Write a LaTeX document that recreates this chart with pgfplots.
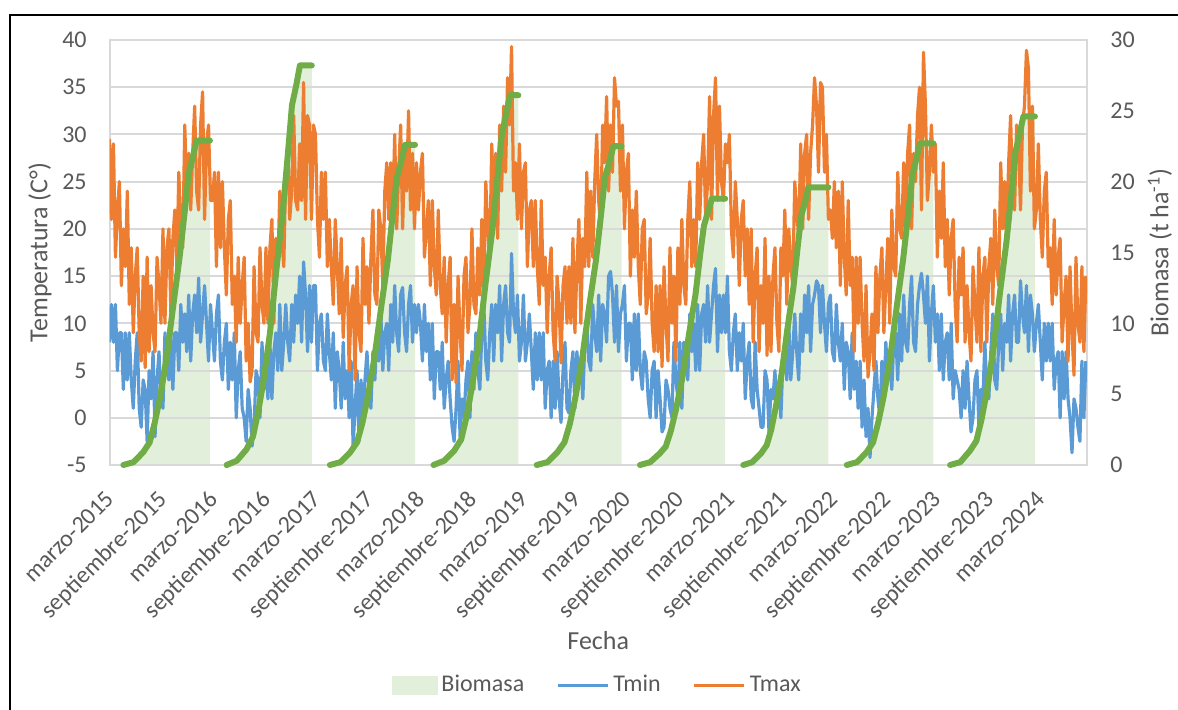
\documentclass[border=0pt]{standalone}
\usepackage{fontspec}
\setmainfont{Carlito}
\usepackage{pgfplots}
\usepackage{pgfplotstable}
\pgfplotsset{compat=1.18}

\definecolor{tmax}{HTML}{ED7D31}
\definecolor{tmin}{HTML}{5B9BD5}
\definecolor{bioline}{HTML}{70AD47}
\definecolor{bioarea}{HTML}{E2EFDA}
\definecolor{gridc}{HTML}{D9D9D9}
\definecolor{txt}{HTML}{595959}

% days since 1 March 2015, weekly samples
\pgfplotstableread{
d tmin tmax
0 8 29.5
7 12 21
14 8 29
21 12 17
28 5 22
35 9 25
42 9 14
49 3 20
56 9 16
63 4 24
70 9 12
77 4 18
84 1 9
91 6 15
98 9 18
105 1 9
112 -1 6
119 4 15
126 3 5.3
133 -2.5 17
140 5 7
147 2 14
154 7 9
161 -2 7
168 4 17
175 7 14
182 2 10
189 1 20
196 9 10
203 5 18
210 4 20
217 9 11
224 3 19
231 9 22
238 9 16
245 5 26
252 12 20
259 8 18
266 11 31
273 7 24
280 13 28
287 6 22
294 11 28
301 13 33
308 9 24
315 14.8 22
322 8 31
329 11 34.5
336 14 21
343 10 29
350 6 31
357 12 23
364 9 23
371 6 26
378 11 16
385 13 26
392 6 18
399 4 25
406 8 18
413 10 13
420 3 21
427 8 23
434 4 12
441 9 15
448 0 8
455 5 17
462 7 10
469 1 14
476 0 17
483 -2.5 6
490 3 10
497 1 3.8
504 -3 5
511 -1 16
518 5 9
525 4 8
532 0 18
539 8 12
546 3 10
553 6 18
560 2 10
567 8 18
574 2 21
581 7 10
588 9 19
595 5 16
602 12 24
609 5 19
616 8 16
623 12 26
630 8 29
637 6 21
644 12 24
651 8 32
658 13 23
665 10 22
672 15 29
679 8 23
686 16.5 35.5
693 13 21
700 7 32
707 14 31
714 8 21
721 14 31
728 14 30
735 5 21
742 10 17
749 11 26
756 6 21
763 5 26
770 11 16
777 7 21
784 4 16
791 9 12
798 1 21
805 7 16
812 5 11
819 1 19
826 8 8.5
833 2 14
840 5 16
847 0 5
854 6 12
861 -3 14
868 1 4
875 5 16
882 -2.5 9
889 4 7
896 0 19
903 4 12
910 7 16
917 3 10
924 1 17
931 7 22
938 4 13
945 9 12
952 6 22
959 11 20
966 5 14
973 9 24
980 10 27
987 5 21
994 12 27
1001 8 21
1008 14 30
1015 9 20
1022 7 26
1029 13 31
1036 13.8 20
1043 9 28
1050 7 24
1057 12 32.5
1064 14 22
1071 8 28
1078 12 20
1085 9 27
1092 12 22
1099 10 26
1106 6 28
1113 12 17
1120 7 20
1127 10 23
1134 4 14
1141 10 23
1148 2 16
1155 7 13
1162 7 22
1169 3 14
1176 8 11
1183 1 17
1190 4 8
1197 6 14
1204 2 17
1211 -1 4
1218 -2.5 12
1225 1 3.7
1232 6 15
1239 -2 9
1246 2 5
1253 0 15
1260 4 17
1267 6 9
1274 0 12
1281 7 20
1288 3 12
1295 9 11
1302 5 18
1309 3 13
1316 9 21
1323 12 13
1330 6 25
1337 4 20
1344 9 17
1351 12 29
1358 6 23
1365 12 28
1372 9 19
1379 14 31
1386 6 24
1393 12 33
1400 14 26
1407 9 36
1414 8 31
1421 17.4 39.3
1428 11 24
1435 9 27
1442 13 21
1449 6 29
1456 8 20
1463 13 26
1470 6 27
1477 8 16
1484 11 22
1491 7 23
1498 3 16
1505 9 23
1512 4 16
1519 9 12
1526 4 23
1533 9 14
1540 1 17
1547 5 9
1554 6 15
1561 0 18
1568 6 9
1575 1 6
1582 7 15
1589 2 12
1596 -0.5 5.8
1603 5 14
1610 8 16
1617 1 10
1624 0.5 16
1631 5 10
1638 7 19
1645 1 9
1652 7 16
1659 4 21
1666 6 10
1673 2 19
1680 8 16
1687 10 26
1694 6 16
1701 5 24
1708 12 17
1715 9 25
1722 7 30
1729 13 23
1736 6 20
1743 12 31
1750 11 27
1757 8 34
1764 15 24
1771 15.5 31
1778 13 26
1785 8 36
1792 14 33
1799 7 33.5
1806 11 24
1813 12 31
1820 14 20
1827 6 26
1834 10 28
1841 10 15
1848 4 22
1855 11 17
1862 5 24
1869 11 16
1876 5 12
1883 3 20
1890 7 21
1897 6 11
1904 2 13
1911 0 19
1918 5 10
1925 6 7
1932 0 14
1939 5 7
1946 2 14
1953 -1.5 5.4
1960 -1 16
1967 4 10
1974 3 6
1981 1 18
1988 0 10
1995 8 15
2002 4 6
2009 2 18
2016 8 12
2023 1 21
2030 8 14
2037 7 12
2044 4 21
2051 11 25
2058 7 16
2065 10 21
2072 5 16
2079 12 27
2086 5 21
2093 11 27
2100 12 30
2107 8 21
2114 14 25
2121 8 34
2128 11 21
2135 14 32
2142 15.8 36
2149 7 23
2156 13 33
2163 9 25
2170 13 23
2177 9 29
2184 15 27
2191 7 30
2198 5 20
2205 9 17
2212 11 25
2219 5 21
2226 9 14
2233 6 21
2240 10 23
2247 2 15
2254 6 20
2261 8 12
2268 2 20
2275 1 8
2282 8 15
2289 3 18
2296 1 7
2303 -1 14
2310 -1 10
2317 5 19
2324 4 6.6
2331 -1.5 15
2338 3 7
2345 2 15
2352 5 18
2359 1 10
2366 3 7
2373 0 18
2380 6 15
2387 7 22
2394 4 12
2401 10 20
2408 4 16
2415 7 14
2422 11 25
2429 7 22
2436 4 19
2443 11 29
2450 7 20
2457 13 28
2464 9 30
2471 14 21
2478 7 28
2485 12 31
2492 13 36
2499 14.5 33
2506 14 26
2513 9 35.5
2520 14 35
2527 10 26
2534 7 30
2541 12 21
2548 13 22
2555 7 19
2562 6 25
2569 12 18
2576 8 24
2583 6 14
2590 10 25
2597 3 17
2604 8 13
2611 7 23
2618 2 14
2625 9 17
2632 3 7
2639 6 17
2646 1 10
2653 6 17
2660 -1 10
2667 4 6
2674 -2 14
2681 1 4.3
2688 -4.2 7
2695 0 11
2702 3 5
2709 6 16
2716 2 9
2723 0 15
2730 6 18
2737 2 9
2744 8 14
2751 4 19
2758 6 10
2765 3 22
2772 8 16
2779 9 15
2786 4 26
2793 11 20
2800 6 19
2807 13 27
2814 8 20
2821 7 28
2828 12 31
2835 15 20
2842 8 28
2849 7 25
2856 12 32
2863 14 35
2870 15.3 22
2877 13 38.7
2884 10 33
2891 15 23
2898 6 26
2905 11 31
2912 14 26
2919 8 29
2926 11 17
2933 5 24
2940 11 19
2947 4 27
2954 8 16
2961 9 21
2968 4 13
2975 10 19
2982 2 21
2989 5 12
2996 4 8
3003 3 17
3010 0 13
3017 5 18
3024 1 8
3031 6 14
3038 2 9
3045 -1.5 6
3052 0 16
3059 4 12
3066 5 8
3073 -1 18
3080 3 7
3087 2 15
3094 8 17
3101 3 8
3108 2 16
3115 7 19
3122 11 12
3129 4 22
3136 3 16
3143 8 14
3150 11 27
3157 5 20
3164 10 25
3171 8 19
3178 13 27
3185 6 32
3192 11 23
3199 13 22
3206 8 31
3213 8 29
3220 14.5 22
3227 11 31
3234 9 33
3241 14 38.9
3248 7 37
3255 13 24
3262 11 33
3269 7 20
3276 10 22
3283 12 29
3290 8 21
3297 4 17
3304 10 24
3311 6 26
3318 10 16
3325 6 18
3332 10 12
3339 3 21
3346 6 13
3353 7 17
3360 0 19
3367 7 8
3374 2 12
3381 7 15
3388 2 6
3395 0 16
3402 -3.7 9
3409 2 4.5
3416 1 17
3423 -1 10
3430 -2.5 8
3437 6 16
3444 0 7
3451 6 15
}\temps

% biomass: b for the area, l for the line (nan breaks it)
\pgfplotstableread{
d b l
49 0 0
85 0.2 0.2
119 0.9 0.9
142 1.6 1.6
160 3.0 3.0
179 4.8 4.8
202 7.6 7.6
225 11.2 11.2
248 14.7 14.7
267 18.1 18.1
280 20.6 20.6
295 21.8 21.8
308 22.9 22.9
355 22.9 22.9
355 0 nan
414 0 0
450 0.3 0.3
484 1.1 1.1
507 2.0 2.0
525 3.7 3.7
544 5.9 5.9
567 9.3 9.3
590 13.8 13.8
613 18.0 18.0
632 22.3 22.3
645 25.4 25.4
660 26.8 26.8
673 28.2 28.2
715 28.2 28.2
715 0 nan
779 0 0
816 0.2 0.2
851 0.9 0.9
875 1.6 1.6
893 2.9 2.9
912 4.7 4.7
936 7.5 7.5
960 11.1 11.1
984 14.5 14.5
1002 17.9 17.9
1016 20.3 20.3
1032 21.5 21.5
1045 22.6 22.6
1080 22.6 22.6
1080 0 nan
1145 0 0
1183 0.3 0.3
1218 1.0 1.0
1243 1.8 1.8
1262 3.4 3.4
1281 5.5 5.5
1305 8.6 8.6
1329 12.8 12.8
1354 16.7 16.7
1373 20.6 20.6
1386 23.2 23.2
1402 24.8 24.8
1416 26.1 26.1
1445 26.1 26.1
1445 0 nan
1510 0 0
1548 0.2 0.2
1583 0.9 0.9
1608 1.6 1.6
1627 2.9 2.9
1646 4.7 4.7
1670 7.4 7.4
1694 11.0 11.0
1719 14.4 14.4
1738 17.8 17.8
1751 20.3 20.3
1767 21.4 21.4
1781 22.5 22.5
1810 22.5 22.5
1810 0 nan
1875 0 0
1911 0.2 0.2
1944 0.8 0.8
1966 1.3 1.3
1984 2.4 2.4
2002 3.9 3.9
2025 6.2 6.2
2048 9.2 9.2
2071 12.0 12.0
2088 14.9 14.9
2101 16.9 16.9
2116 17.9 17.9
2129 18.8 18.8
2176 18.8 18.8
2176 0 nan
2240 0 0
2272 0.2 0.2
2302 0.8 0.8
2323 1.4 1.4
2339 2.5 2.5
2355 4.1 4.1
2376 6.5 6.5
2396 9.6 9.6
2417 12.5 12.5
2433 15.5 15.5
2445 17.6 17.6
2459 18.6 18.6
2470 19.6 19.6
2541 19.6 19.6
2541 0 nan
2606 0 0
2642 0.2 0.2
2676 0.9 0.9
2699 1.6 1.6
2717 3.0 3.0
2736 4.8 4.8
2759 7.5 7.5
2782 11.1 11.1
2805 14.5 14.5
2824 17.9 17.9
2837 20.4 20.4
2852 21.6 21.6
2865 22.7 22.7
2912 22.7 22.7
2912 0 nan
2971 0 0
3007 0.2 0.2
3041 1.0 1.0
3064 1.7 1.7
3082 3.2 3.2
3101 5.2 5.2
3124 8.1 8.1
3147 12.1 12.1
3170 15.7 15.7
3189 19.4 19.4
3202 22.1 22.1
3217 23.4 23.4
3230 24.6 24.6
3271 24.6 24.6
3271 0 nan
}\biomasa

\pgfplotsset{
  base/.style={
    at={(54.75pt,122.5pt)}, anchor=south west,
    scale only axis, width=488.75pt, height=212.5pt,
    xmin=0, xmax=3455,
    tick label style={font=\fontsize{12}{14}\selectfont, text=txt},
    label style={font=\fontsize{13}{15}\selectfont, text=txt},
    major tick length=0pt, tick style={draw=none},
  },
}

\begin{document}
\begin{tikzpicture}
\path[use as bounding box] (0,0) rectangle (589pt,355pt);
\draw[line width=1pt] (5pt,-2pt) -- (5pt,347.5pt) -- (600pt,347.5pt);

% biomass area, right axis
\begin{axis}[base,
    ymin=0, ymax=30,
    axis x line=none, axis y line*=right,
    axis line style={draw=none},
    ytick={0,5,...,30}, yticklabels={0,5,10,15,20,25,30},
    yticklabel style={anchor=west, inner sep=0pt, xshift=11.5pt},
    ylabel={Biomasa (t ha\textsuperscript{-1})},
    ylabel style={at={(axis description cs:1.0747,0.5)}, anchor=center},
]
\addplot[fill=bioarea, draw=none] table[x=d, y=b]{\biomasa} \closedcycle;
\end{axis}

% temperatures, left axis
\begin{axis}[base,
    ymin=-5, ymax=40,
    ytick={-5,0,...,40}, yticklabels={-5,0,5,10,15,20,25,30,35,40},
    yticklabel style={anchor=east, inner sep=0pt, xshift=-11.25pt},
    ymajorgrids, grid style={gridc, line width=1pt},
    axis line style={gridc, line width=1pt},
    xtick={0,184,366,550,731,915,1096,1280,1461,1645,1827,2011,2192,2376,2557,2741,2922,3106,3288},
    xticklabels={marzo-2015,septiembre-2015,marzo-2016,septiembre-2016,marzo-2017,septiembre-2017,marzo-2018,septiembre-2018,marzo-2019,septiembre-2019,marzo-2020,septiembre-2020,marzo-2021,septiembre-2021,marzo-2022,septiembre-2022,marzo-2023,septiembre-2023,marzo-2024},
    xticklabel style={xshift=-2.5pt, yshift=-12pt, rotate=45, anchor=north east, inner sep=0pt},
    xlabel={Fecha},
    xlabel style={at={(axis description cs:0.5,-0.412)}, anchor=center},
    ylabel={Temperatura (C°)},
    ylabel style={at={(axis description cs:-0.0711,0.5)}, anchor=center},
    legend style={at={(axis description cs:0.5,-0.518)}, anchor=center,
      draw=none, fill=none, text=txt, font=\fontsize{12}{14}\selectfont,
      legend columns=3, /tikz/every even column/.append style={column sep=14pt}},
    legend image code/.code={\draw[#1, line width=1.5pt] (0pt,0pt) -- (25pt,0pt);},
]
\addlegendimage{legend image code/.code={\fill[bioarea] (0pt,-4.5pt) rectangle (22.5pt,4.5pt);}}
\addlegendentry{Biomasa}
\addplot[tmin, line width=1.6pt, line join=round] table[x=d, y=tmin]{\temps};
\addlegendentry{Tmin}
\addplot[tmax, line width=1.6pt, line join=round] table[x=d, y=tmax]{\temps};
\addlegendentry{Tmax}
\end{axis}

% biomass line on top
\begin{axis}[base, ymin=0, ymax=30, hide axis, clip=false, unbounded coords=jump]
\addplot[bioline, line width=3pt, line cap=round, line join=round] table[x=d, y=l]{\biomasa};
\end{axis}
\end{tikzpicture}
\end{document}
